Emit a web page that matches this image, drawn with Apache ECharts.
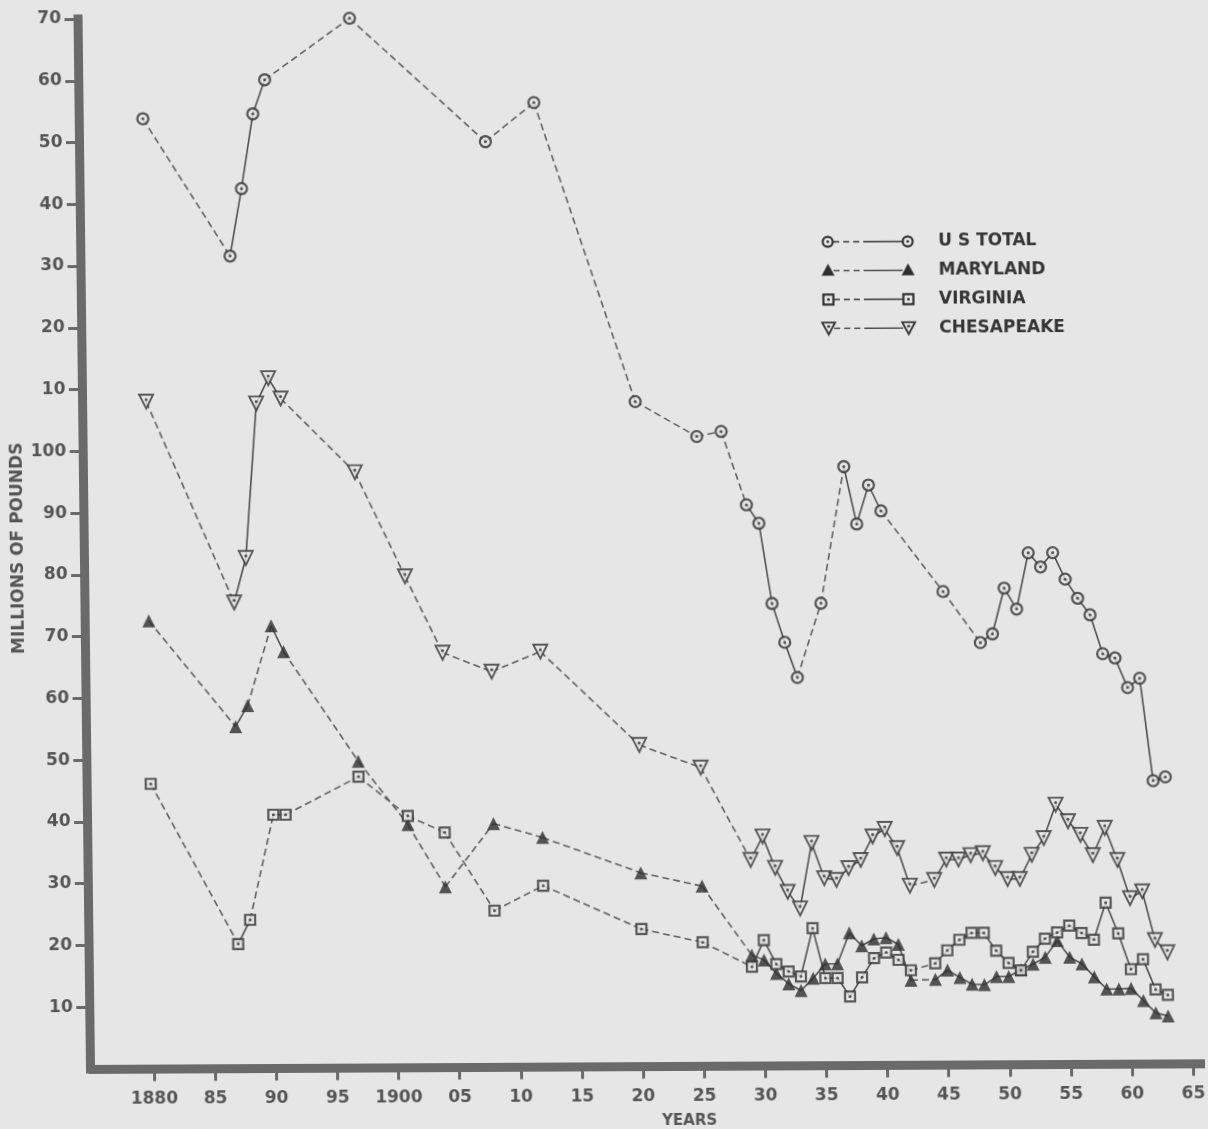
<!DOCTYPE html>
<html>
<head>
<meta charset="utf-8">
<script src="https://cdn.jsdelivr.net/npm/echarts@6/dist/echarts.min.js"></script>
<style>
  html, body { margin: 0; padding: 0; background: #e6e6e6; overflow: hidden; }
  /* the scanned page sits slightly askew */
  #chart { width: 1208px; height: 1129px; transform: skew(0.68deg, -0.29deg); transform-origin: 93px 1069px; }
</style>
</head>
<body>
<div id="chart"></div>
<script>
// values above 100 belong to the upper (US total) scale, labelled 10..70
const usYears = [1880, 1887, 1888, 1889, 1890, 1897, 1908, 1912, 1920, 1925, 1927,
    1929, 1930, 1931, 1932, 1933, 1935, 1937, 1938, 1939, 1940, 1945, 1948, 1949,
    1950, 1951, 1952, 1953, 1954, 1955, 1956, 1957, 1958, 1959, 1960, 1961, 1962, 1963];
const usTotal = [153.8, 131.5, 142.4, 154.5, 160.0, 169.9, 149.8, 156.1, 107.6, 101.9, 102.7,
    90.8, 87.8, 74.8, 68.5, 62.8, 74.8, 96.9, 87.6, 93.9, 89.7, 76.6, 68.3, 69.7,
    77.1, 73.7, 82.8, 80.5, 82.8, 78.5, 75.4, 72.7, 66.4, 65.7, 60.9, 62.4, 45.8, 46.4];

const stateYears = [1880, 1887, 1888, 1890, 1891, 1897, 1901, 1904, 1908, 1912, 1920, 1925,
    1929, 1930, 1931, 1932, 1933, 1934, 1935, 1936, 1937, 1938, 1939, 1940, 1941, 1942,
    1944, 1945, 1946, 1947, 1948, 1949, 1950, 1951, 1952, 1953, 1954, 1955, 1956, 1957,
    1958, 1959, 1960, 1961, 1962, 1963];
const maryland = [72.5, 55.3, 58.7, 71.6, 67.4, 49.6, 39.3, 29.2, 39.4, 37.1, 31.3, 29.1,
    17.9, 17.1, 14.9, 13.2, 12.1, 14.1, 16.4, 16.4, 21.4, 19.3, 20.4, 20.6, 19.5, 13.7,
    13.8, 15.3, 14.1, 13.0, 12.9, 14.2, 14.2, 15.3, 16.2, 17.3, 20.0, 17.3, 16.2, 14.1,
    12.1, 12.1, 12.2, 10.2, 8.2, 7.7];
const virginia = [46.1, 20.1, 24.0, 41.0, 41.0, 47.1, 40.7, 38.0, 25.3, 29.3, 22.2, 20.0,
    16.0, 20.3, 16.4, 15.2, 14.4, 22.2, 14.1, 14.1, 11.1, 14.2, 17.3, 18.2, 17.0, 15.3,
    16.4, 18.5, 20.2, 21.3, 21.3, 18.4, 16.4, 15.2, 18.2, 20.3, 21.3, 22.4, 21.2, 20.1,
    26.1, 21.1, 15.3, 16.9, 12.0, 11.1];

const chesYears = [1880, 1887, 1888, 1889, 1890, 1891, 1897, 1901, 1904, 1908, 1912, 1920, 1925,
    1929, 1930, 1931, 1932, 1933, 1934, 1935, 1936, 1937, 1938, 1939, 1940, 1941, 1942,
    1944, 1945, 1946, 1947, 1948, 1949, 1950, 1951, 1952, 1953, 1954, 1955, 1956, 1957,
    1958, 1959, 1960, 1961, 1962, 1963];
const chesapeake = [108.0, 75.4, 82.6, 107.6, 111.7, 108.4, 96.4, 79.5, 67.1, 64.0, 67.2, 52.0, 48.3,
    33.3, 37.1, 32.0, 28.1, 25.4, 36.0, 30.3, 30.0, 31.9, 33.2, 37.0, 38.2, 35.1, 29.0,
    29.9, 33.2, 33.2, 33.9, 34.2, 31.8, 30.0, 30.0, 33.9, 36.6, 42.0, 39.3, 37.1, 33.8,
    38.2, 33.0, 26.8, 27.9, 20.0, 18.0];

const legendNames = ['U S TOTAL', 'MARYLAND', 'VIRGINIA', 'CHESAPEAKE'];
const xTicks = [1880, 1885, 1890, 1895, 1900, 1905, 1910, 1915, 1920, 1925, 1930,
    1935, 1940, 1945, 1950, 1955, 1960, 1965];
const yTicks = [10, 20, 30, 40, 50, 60, 70, 80, 90, 100, 110, 120, 130, 140, 150, 160, 170];

const ink = '#353535';
const paper = '#e6e6e6';
const axisGray = '#6a6a6a';
const labelFont = 'DejaVu Sans';

// solid between consecutive years, dashed across missing years
function segments(xs, ys) {
    const solid = [], dashed = [];
    for (let i = 0; i < xs.length - 1; i++) {
        const t = xs[i + 1] - xs[i] === 1 ? solid : dashed;
        t.push([xs[i], ys[i]], [xs[i + 1], ys[i + 1]], [xs[i + 1], '-']);
    }
    return { solid, dashed };
}

const series = [];
function addSeries(xs, ys, mark) {
    const s = segments(xs, ys);
    const pts = xs.map((x, i) => [x, ys[i]]);
    series.push({
        type: 'line', data: s.dashed, showSymbol: false, silent: true, z: 2,
        lineStyle: { color: '#606060', width: 1.6, type: [7, 4] }
    });
    series.push({
        type: 'line', data: s.solid, showSymbol: false, silent: true, z: 2,
        lineStyle: { color: '#505050', width: 1.6 }
    });
    series.push({
        type: 'scatter', data: pts, silent: true, z: 3,
        symbol: mark.symbol, symbolSize: mark.size, symbolRotate: mark.rotate || 0,
        itemStyle: { color: mark.fill, borderColor: ink, borderWidth: mark.border }
    });
    if (mark.dot) {
        series.push({
            type: 'scatter', data: pts, silent: true, z: 4,
            symbol: 'circle', symbolSize: 3, symbolOffset: [0, mark.dotOffset || 0],
            itemStyle: { color: ink }
        });
    }
}

addSeries(usYears, usTotal, { symbol: 'circle', size: 11, fill: paper, border: 2.3, dot: true });
addSeries(stateYears, maryland, { symbol: 'triangle', size: 13, fill: '#2e2e2e', border: 0 });
addSeries(stateYears, virginia, { symbol: 'rect', size: 10, fill: paper, border: 2.2, dot: true });
addSeries(chesYears, chesapeake, { symbol: 'triangle', size: 14, rotate: 180, fill: paper, border: 1.9, dot: true, dotOffset: -2 });

// legend drawn as on the original: marker - - -—— marker  NAME
function legendMark(kind, x, y) {
    if (kind === 0) {
        return [
            { type: 'circle', shape: { cx: x, cy: y, r: 5 }, style: { fill: paper, stroke: ink, lineWidth: 2.2 } },
            { type: 'circle', shape: { cx: x, cy: y, r: 1.4 }, style: { fill: ink } }
        ];
    }
    if (kind === 1) {
        return [{ type: 'polygon', shape: { points: [[x, y - 7], [x + 6.5, y + 5], [x - 6.5, y + 5]] }, style: { fill: '#2e2e2e' } }];
    }
    if (kind === 2) {
        return [
            { type: 'rect', shape: { x: x - 5, y: y - 5, width: 10, height: 10 }, style: { fill: paper, stroke: ink, lineWidth: 2.2 } },
            { type: 'circle', shape: { cx: x, cy: y, r: 1.4 }, style: { fill: ink } }
        ];
    }
    return [
        { type: 'polygon', shape: { points: [[x - 6.5, y - 6], [x + 6.5, y - 6], [x, y + 6]] }, style: { fill: paper, stroke: ink, lineWidth: 1.8 } },
        { type: 'circle', shape: { cx: x, cy: y - 2, r: 1.4 }, style: { fill: ink } }
    ];
}

const legendEls = [];
legendNames.forEach((name, i) => {
    const y = 245.6 + i * 28.9;
    legendEls.push(
        { type: 'line', shape: { x1: 843, y1: y, x2: 878, y2: y }, style: { stroke: '#505050', lineWidth: 1.6, lineDash: [6, 4] } },
        { type: 'line', shape: { x1: 878, y1: y, x2: 912, y2: y }, style: { stroke: '#505050', lineWidth: 1.6 } },
        ...legendMark(i, 837.5, y),
        ...legendMark(i, 917.5, y),
        { type: 'text', x: 948, y: y, style: { text: name, font: 'bold 17px "' + labelFont + '"', fill: ink, verticalAlign: 'middle' } }
    );
});

const chart = echarts.init(document.getElementById('chart'));
chart.setOption({
    backgroundColor: paper,
    animation: false,
    grid: { left: 93, right: 5, top: 19, bottom: 60 },
    xAxis: {
        type: 'value', min: 1875, max: 1965.6, interval: 5, offset: 3.5,
        splitLine: { show: false },
        axisLine: { lineStyle: { color: axisGray, width: 9, cap: 'square' } },
        axisTick: { length: 12.5, customValues: xTicks, lineStyle: { color: axisGray, width: 3 } },
        axisLabel: {
            margin: 19, color: '#555', fontFamily: labelFont, fontWeight: 'bold', fontSize: 17,
            customValues: xTicks,
            formatter: v => (v === 1880 || v === 1900 ? String(v) : String(v % 100).padStart(2, '0'))
        }
    },
    yAxis: {
        type: 'value', min: 0, max: 170, interval: 10, offset: 2.5,
        splitLine: { show: false },
        axisLine: { show: true, lineStyle: { color: axisGray, width: 9, cap: 'square' } },
        axisTick: { show: true, length: 13.5, customValues: yTicks, lineStyle: { color: axisGray, width: 3 } },
        axisLabel: {
            margin: 17, color: '#555', fontFamily: labelFont, fontWeight: 'bold', fontSize: 17,
            customValues: yTicks,
            formatter: v => String(v > 100 ? v - 100 : v)
        }
    },
    graphic: [
        { type: 'group', children: legendEls },
        {
            type: 'text', x: 24.4, y: 548, rotation: Math.PI / 2,
            style: { text: 'MILLIONS OF POUNDS', font: 'bold 17px "' + labelFont + '"', fill: '#555', align: 'center', verticalAlign: 'middle' }
        },
        {
            type: 'text', x: 689, y: 1124,
            style: { text: 'YEARS', font: 'bold 15px "' + labelFont + '"', fill: '#555', align: 'center', verticalAlign: 'middle' }
        }
    ],
    series: series
});
</script>
</body>
</html>
